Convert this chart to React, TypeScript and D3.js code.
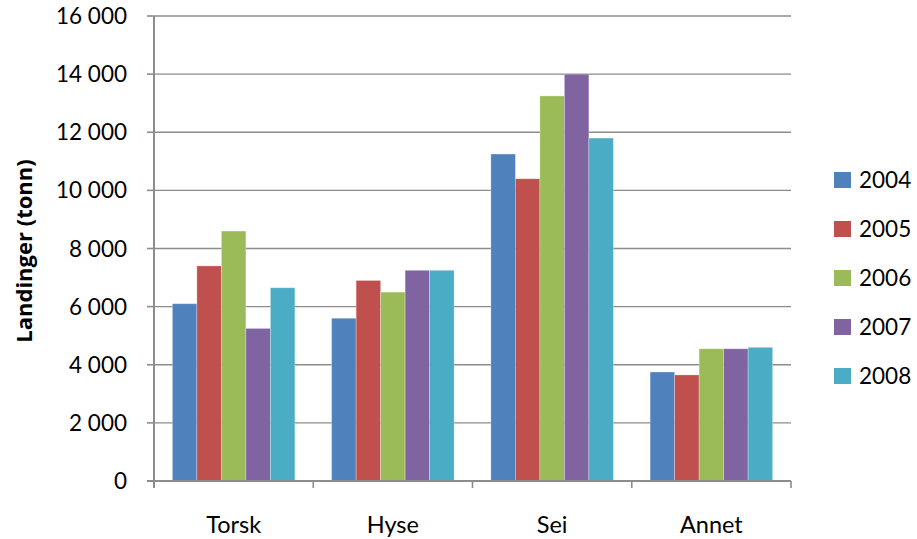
import React from "react";
import * as d3 from "d3";

const categories = ["Torsk", "Hyse", "Sei", "Annet"];
const years = ["2004", "2005", "2006", "2007", "2008"];
const values2004 = [6100, 5600, 11250, 3750];
const values2005 = [7400, 6900, 10400, 3650];
const values2006 = [8600, 6500, 13250, 4550];
const values2007 = [5250, 7250, 14000, 4550];
const values2008 = [6650, 7250, 11800, 4600];
const yTicks = [0, 2000, 4000, 6000, 8000, 10000, 12000, 14000, 16000];
const colors = ["#4F81BD", "#C0504D", "#9BBB59", "#8064A2", "#4BACC6"];

const series = [values2004, values2005, values2006, values2007, values2008];

const width = 917;
const height = 539;
const margin = { top: 16, right: 126, bottom: 57, left: 154 };
const font = "Lato, 'Open Sans', sans-serif";

const fmt = (v: number) => {
  const s = String(v);
  return s.length > 3 ? s.slice(0, -3) + " " + s.slice(-3) : s;
};

const App: React.FC = () => {
  const x0 = d3
    .scaleBand<string>()
    .domain(categories)
    .range([margin.left, width - margin.right])
    .paddingInner(0)
    .paddingOuter(0);
  const x1 = d3
    .scaleBand<string>()
    .domain(years)
    .range([0, x0.bandwidth()])
    .paddingInner(0)
    .paddingOuter(0.75);
  const y = d3
    .scaleLinear()
    .domain([0, 16000])
    .range([height - margin.bottom - 1, margin.top]);

  const catTicks = [...categories.map((c) => x0(c) || 0), width - margin.right];

  return (
    <svg
      width={width}
      height={height}
      style={{ position: "absolute", left: 0, top: 0, background: "#fff" }}
      fontFamily={font}
    >
      {/* gridlines + y ticks */}
      {yTicks.map((t) => (
        <g key={t}>
          {t > 0 && (
            <line
              x1={margin.left}
              x2={width - margin.right}
              y1={y(t)}
              y2={y(t)}
              stroke="#8c8c8c"
              strokeWidth={1.4}
            />
          )}
          <line x1={margin.left - 7} x2={margin.left} y1={y(t)} y2={y(t)} stroke="#8c8c8c" strokeWidth={1.6} />
          <text x={margin.left - 27} y={y(t)} dy="0.36em" textAnchor="end" fontSize={22.5} fill="#000">
            {fmt(t)}
          </text>
        </g>
      ))}

      {/* bars */}
      {series.map((vals, si) =>
        vals.map((v, ci) => (
          <rect
            key={`${si}-${ci}`}
            x={(x0(categories[ci]) || 0) + (x1(years[si]) || 0)}
            y={y(v)}
            width={x1.bandwidth()}
            height={y(0) - y(v)}
            fill={colors[si]}
            stroke="#ffffff"
            strokeOpacity={0.35}
            strokeWidth={0.8}
          />
        ))
      )}

      {/* axes */}
      <line x1={margin.left} x2={margin.left} y1={margin.top} y2={y(0) + 7} stroke="#8c8c8c" strokeWidth={2} />
      <line x1={margin.left - 7} x2={width - margin.right} y1={y(0)} y2={y(0)} stroke="#8c8c8c" strokeWidth={2} />
      {catTicks.map((cx, i) => (
        <line key={i} x1={cx} x2={cx} y1={y(0)} y2={y(0) + 7} stroke="#8c8c8c" strokeWidth={1.6} />
      ))}
      {categories.map((c) => (
        <text
          key={c}
          x={(x0(c) || 0) + x0.bandwidth() / 2}
          y={533}
          textAnchor="middle"
          fontSize={23.5}
          fill="#000"
        >
          {c}
        </text>
      ))}

      {/* y axis title */}
      <text
        transform={`translate(32, ${251}) rotate(-90)`}
        textAnchor="middle"
        fontSize={22}
        fontWeight="bold"
        fontFamily="'Open Sans', sans-serif"
        fill="#000"
      >
        Landinger (tonn)
      </text>

      {/* legend */}
      {years.map((yr, i) => (
        <g key={yr} transform={`translate(834, ${180 + i * 49})`}>
          <rect x={0} y={-8} width={17} height={16} fill={colors[i]} />
          <text x={25} y={0} dy="0.36em" fontSize={22.5} fill="#000">
            {yr}
          </text>
        </g>
      ))}
    </svg>
  );
};

export default App;
